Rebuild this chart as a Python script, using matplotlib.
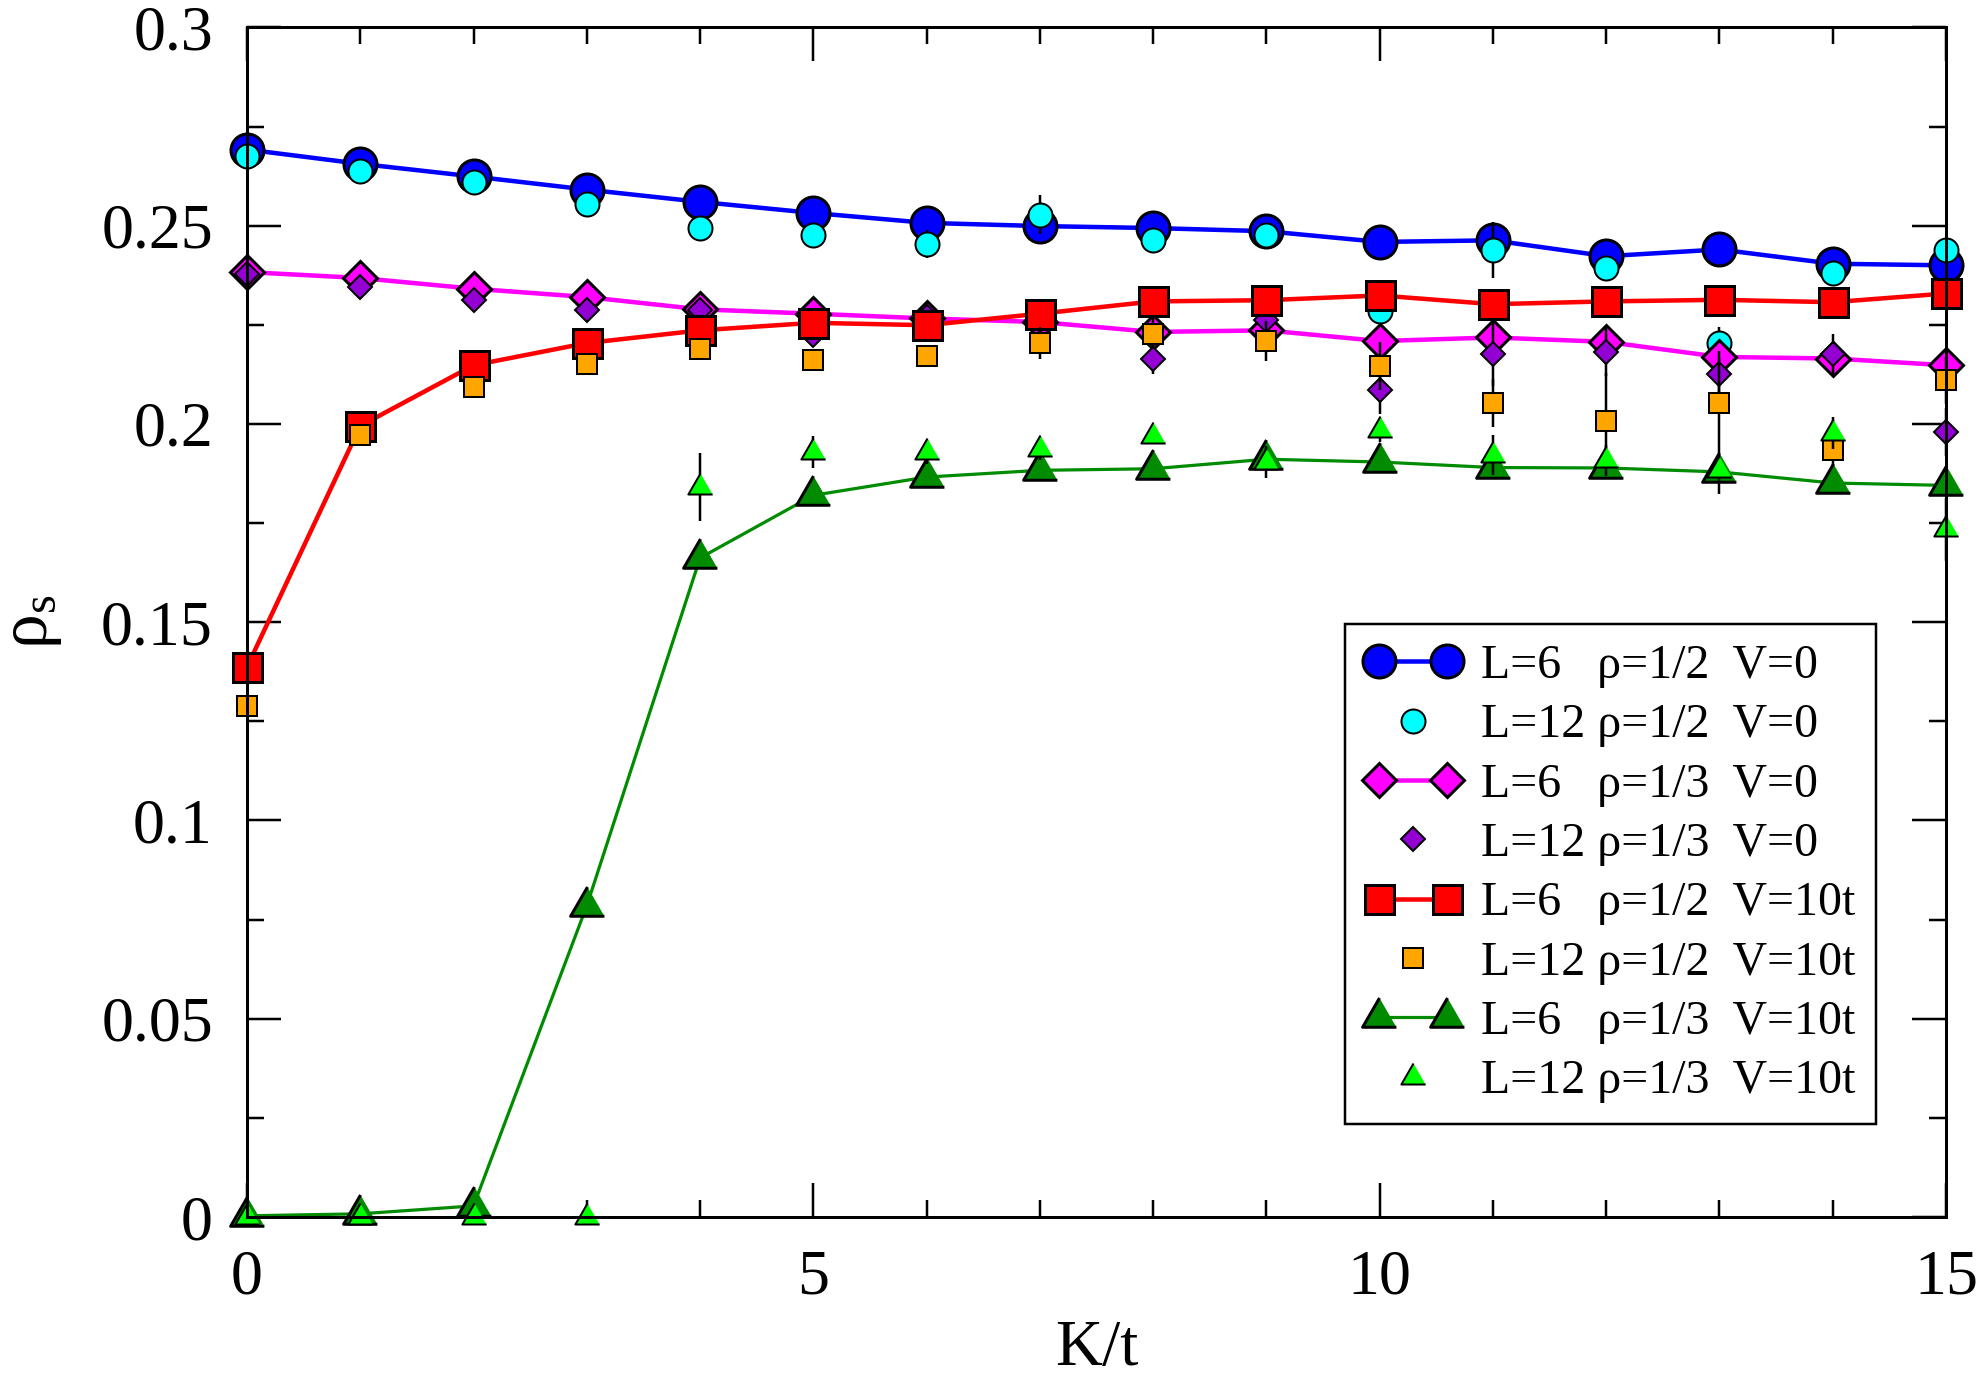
import matplotlib
matplotlib.use('Agg')
import matplotlib.pyplot as plt
from matplotlib.legend_handler import HandlerLine2D
from matplotlib.ticker import MultipleLocator

plt.rcParams['font.family'] = ['Liberation Serif', 'DejaVu Serif']
plt.rcParams['mathtext.fontset'] = 'custom'
plt.rcParams['mathtext.rm'] = 'Liberation Serif'
plt.rcParams['mathtext.it'] = 'Liberation Serif'

PX = 72 / 100  # points per pixel (dpi 100)

K = list(range(16))

# L=6 / L=12, rho=1/2, V=0
s_L6_h_V0 = [0.2692, 0.2656, 0.2624, 0.2591, 0.2560, 0.2532, 0.2507, 0.2499,
             0.2494, 0.2486, 0.2459, 0.2463, 0.2423, 0.2440, 0.2404, 0.2400]
s_L12_h_V0 = [0.2675, 0.2637, 0.2610, 0.2555, 0.2495, 0.2476, 0.2453, 0.2528,
              0.2463, 0.2477, 0.2285, 0.2438, 0.2392, 0.2205, 0.2381, 0.2438]
e_L12_h_V0 = [0.001, 0.001, 0.001, 0.001, 0.0015, 0.002, 0.0035, 0.005,
              0.003, 0.003, 0.003, 0.007, 0.003, 0.004, 0.002, 0.003]

# rho=1/3, V=0
s_L6_t_V0 = [0.2383, 0.2368, 0.2341, 0.2320, 0.2289, 0.2278, 0.2266, 0.2257,
             0.2232, 0.2236, 0.2209, 0.2218, 0.2207, 0.2169, 0.2165, 0.2148]
s_L12_t_V0 = [0.2379, 0.2345, 0.2312, 0.2287, 0.2288, 0.2224, 0.2270, 0.2262,
              0.2165, 0.2261, 0.2085, 0.2176, 0.2181, 0.2125, 0.2177, 0.1980]
e_L12_t_V0 = [0.001, 0.001, 0.001, 0.002, 0.002, 0.002, 0.002, 0.004,
              0.004, 0.005, 0.006, 0.008, 0.006, 0.006, 0.005, 0.006]

# rho=1/2, V=10t
s_L6_h_V10 = [0.1387, 0.1995, 0.2148, 0.2204, 0.2236, 0.2255, 0.2249, 0.2278,
              0.2309, 0.2312, 0.2324, 0.2302, 0.2309, 0.2313, 0.2307, 0.2329]
s_L12_h_V10 = [0.1288, 0.1973, 0.2092, 0.2152, 0.2190, 0.2160, 0.2171, 0.2204,
               0.2228, 0.2209, 0.2146, 0.2053, 0.2008, 0.2053, 0.1935, 0.2110]
e_L12_h_V10 = [0.001, 0.001, 0.001, 0.001, 0.001, 0.001, 0.002, 0.004,
               0.004, 0.005, 0.006, 0.006, 0.012, 0.011, 0.004, 0.006]

# rho=1/3, V=10t
s_L6_t_V10 = [0.0003, 0.0008, 0.0028, 0.0785, 0.1662, 0.1820, 0.1866, 0.1883,
              0.1887, 0.1911, 0.1904, 0.1890, 0.1889, 0.1879, 0.1851, 0.1845]
s_L12_t_V10 = [0.0, 0.0, 0.0, 0.0, 0.1841, 0.1929, 0.1929, 0.1938,
               0.1969, 0.1904, 0.1984, 0.1921, 0.1908, 0.1883, 0.1977, 0.1734]
e_L12_t_V10 = [0.0005, 0.0005, 0.0005, 0.0005, 0.0086, 0.004, 0.003, 0.003,
               0.002, 0.004, 0.003, 0.005, 0.004, 0.006, 0.004, 0.008]

labels = ['L=6   \u03c1=1/2  V=0', 'L=12 \u03c1=1/2  V=0',
          'L=6   \u03c1=1/3  V=0', 'L=12 \u03c1=1/3  V=0',
          'L=6   \u03c1=1/2  V=10t', 'L=12 \u03c1=1/2  V=10t',
          'L=6   \u03c1=1/3  V=10t', 'L=12 \u03c1=1/3  V=10t']

tri = [(0, 0.577), (-0.5, -0.289), (0.5, -0.289)]

fig = plt.figure(figsize=(19.83, 13.81), dpi=100)
ax = fig.add_axes([247 / 1983, 164 / 1381, 1699 / 1983, 1189.6 / 1381])

big_ew = 3 * PX
small_ew = 2 * PX

handles = []
z = 3
series = [
    (s_L6_h_V0, None, 'o', 33, '#0000ff', 4.5),
    (s_L12_h_V0, e_L12_h_V0, 'o', 24, '#00ffff', 0),
    (s_L6_t_V0, None, 'D', 24, '#ff00ff', 4.5),
    (s_L12_t_V0, e_L12_t_V0, 'D', 17, '#9400d3', 0),
    (s_L6_h_V10, None, 's', 29, '#ff0000', 4.5),
    (s_L12_h_V10, e_L12_h_V10, 's', 20, '#ffa500', 0),
    (s_L6_t_V10, None, tri, 39, '#008b00', 3.2),
    (s_L12_t_V10, e_L12_t_V10, tri, 28, '#00ff00', 0),
]
for (vals, err, mk, ms, col, lw), lab in zip(series, labels):
    if err is None:
        h, = ax.plot(K, vals, color=col, lw=lw * PX, marker=mk, ms=ms * PX,
                     mfc=col, mec='black', mew=big_ew, label=lab,
                     zorder=z, clip_on=False)
    else:
        ax.errorbar(K, vals, yerr=err, fmt='none', ecolor='black',
                    elinewidth=2.5 * PX, capsize=0, zorder=z, clip_on=False)
        h, = ax.plot(K, vals, ls='none', marker=mk, ms=ms * PX, mfc=col,
                     mec='black', mew=small_ew, label=lab, zorder=z + 0.5,
                     clip_on=False)
    handles.append(h)
    z += 1

ax.set_xlim(0, 15)
ax.set_ylim(0, 0.3)
ax.xaxis.set_major_locator(MultipleLocator(5))
ax.xaxis.set_minor_locator(MultipleLocator(1))
ax.yaxis.set_major_locator(MultipleLocator(0.05))
ax.yaxis.set_minor_locator(MultipleLocator(0.025))
ax.set_yticks([0, 0.05, 0.1, 0.15, 0.2, 0.25, 0.3])
ax.set_yticklabels(['0', '0.05', '0.1', '0.15', '0.2', '0.25', '0.3'])

ax.tick_params(which='both', direction='in', top=True, right=True,
               width=2.5 * PX, labelsize=46)
ax.tick_params(which='major', length=34 * PX)
ax.tick_params(which='minor', length=17 * PX)
ax.tick_params(axis='y', pad=34 * PX)
ax.tick_params(axis='x', pad=33 * PX)
for sp in ax.spines.values():
    sp.set_linewidth(3 * PX)
    sp.set_zorder(20)

ax.set_xlabel('K/t', fontsize=47, labelpad=8)
ax.set_ylabel('\u03c1$_\\mathrm{s}$', fontsize=50, labelpad=27)

hmap = {h: HandlerLine2D(numpoints=1) for h in handles[1::2]}
leg = ax.legend(handles=handles, loc='upper left',
                bbox_to_anchor=(1345 / 1983, 1 - 624 / 1381),
                bbox_transform=fig.transFigure, borderaxespad=0,
                fontsize=34.5, numpoints=2, handler_map=hmap,
                handlelength=2.0, handletextpad=0.42, borderpad=0.42,
                labelspacing=0.32, fancybox=False, framealpha=1,
                edgecolor='black')
leg.get_frame().set_linewidth(2.5 * PX)
leg.set_zorder(30)

fig.savefig('out.png', dpi=100)
